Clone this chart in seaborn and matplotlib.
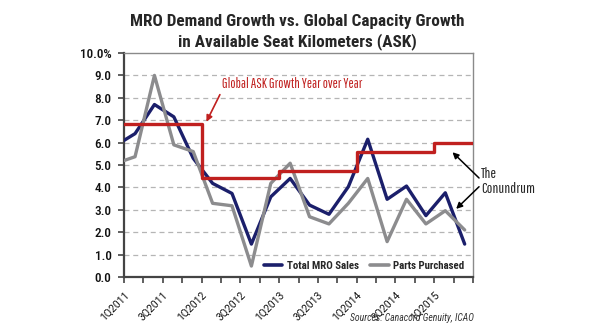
import numpy as np
import pandas as pd
import matplotlib
matplotlib.use("Agg")
import matplotlib.pyplot as plt
import seaborn as sns

# Quarterly growth series (%), one value per quarter starting 4Q2010
quarters = ["4Q2010", "1Q2011", "2Q2011", "3Q2011", "4Q2011", "1Q2012", "2Q2012",
            "3Q2012", "4Q2012", "1Q2013", "2Q2013", "3Q2013", "4Q2013", "1Q2014",
            "2Q2014", "3Q2014", "4Q2014", "1Q2015", "2Q2015"]
total_mro_sales = [5.87, 6.4, 7.7, 7.15, 5.3, 4.18, 3.73, 1.47, 3.58, 4.4, 3.21,
                   2.8, 4.03, 6.15, 3.47, 4.06, 2.74, 3.76, 1.47]
parts_purchased = [5.07, 5.37, 9.0, 5.9, 5.6, 3.29, 3.18, 0.49, 4.18, 5.08, 2.69,
                   2.37, 3.29, 4.4, 1.58, 3.47, 2.37, 2.96, 2.1]

# Global ASK growth, year over year (held flat through each year)
ask_years = ["2011", "2012", "2013", "2014", "2015"]
ask_growth = [6.85, 4.4, 4.75, 5.6, 5.97]

# Category axis: quarter ticks from 1Q2011 to 3Q2015
axis_quarters = ["1Q2011", "2Q2011", "3Q2011", "4Q2011", "1Q2012", "2Q2012", "3Q2012",
                 "4Q2012", "1Q2013", "2Q2013", "3Q2013", "4Q2013", "1Q2014", "2Q2014",
                 "3Q2014", "4Q2014", "1Q2015", "2Q2015", "3Q2015"]

sns.set_style("white")
COND = ["Roboto Condensed", "DejaVu Sans"]
NARROW = ["Pathway Gothic One", "Roboto Condensed", "DejaVu Sans"]
plt.rcParams["font.family"] = COND

fig = plt.figure(figsize=(5.95, 3.35), dpi=100)
ax = fig.add_axes([0.2084, 0.1731, 0.5866, 0.6687])

# Data points sit mid-quarter between the tick marks
pos = np.arange(len(quarters)) - 1 + 0.57
df = pd.DataFrame({
    "x": np.concatenate([pos, pos]),
    "value": total_mro_sales + parts_purchased,
    "series": ["Total MRO Sales"] * len(pos) + ["Parts Purchased"] * len(pos),
})

sns.lineplot(data=df, x="x", y="value", hue="series", ax=ax,
             palette={"Total MRO Sales": "#1b1f6b", "Parts Purchased": "#8c8c8e"},
             linewidth=2.4, zorder=3, legend=True)

# Yearly ASK step line: each year spans four quarter ticks
ask_x = [4 * i for i in range(len(ask_years))] + [len(axis_quarters) - 1]
ask_y = ask_growth + [ask_growth[-1]]
ask_df = pd.DataFrame({"x": ask_x, "value": ask_y})
sns.lineplot(data=ask_df, x="x", y="value", ax=ax, color="#c0201f",
             linewidth=2.4, drawstyle="steps-post", zorder=4)

ax.set_xlim(0, len(axis_quarters) - 1)
ax.set_ylim(0, 10)
ax.set_xlabel("")
ax.set_ylabel("")

ax.set_yticks(np.arange(0, 11, 1))
ax.set_yticklabels([f"{v:.1f}%" if v == 10 else f"{v:.1f}" for v in range(11)],
                   fontsize=9.5, color="#111111", fontweight="medium")
ax.set_xticks(np.arange(len(axis_quarters)))
ax.set_xticklabels([q if i % 2 == 0 and i < 18 else "" for i, q in enumerate(axis_quarters)],
                   rotation=45, ha="right", va="top", rotation_mode="anchor",
                   fontsize=7.5, color="#111111", family=["Roboto", "DejaVu Sans"])
ax.tick_params(axis="both", direction="out", length=4, width=1.2, color="#444444",
               left=True, bottom=True)
ax.tick_params(axis="x", pad=5)
ax.tick_params(axis="y", pad=5)

for y in range(1, 10):
    ax.axhline(y, color="#b5b5b5", linewidth=0.9, linestyle=(0, (4, 3)), zorder=1)

for side in ["left", "bottom"]:
    ax.spines[side].set_color("#444444")
    ax.spines[side].set_linewidth(1.6)
for side in ["top", "right"]:
    ax.spines[side].set_visible(True)
    ax.spines[side].set_color("#8a8a8a")
    ax.spines[side].set_linewidth(1.0)

leg = ax.legend(loc="lower right", ncol=2, frameon=False, fontsize=7.8,
                handlelength=1.7, columnspacing=1.1, handletextpad=0.4,
                borderaxespad=0.4, bbox_to_anchor=(1.0, -0.01))
for line in leg.get_lines():
    line.set_linewidth(2.6)
for t in leg.get_texts():
    t.set_fontweight("bold")

# Annotations
ax.annotate("Global ASK Growth Year over Year", xy=(4.25, 6.93), xytext=(5.03, 8.6),
            color="#c0201f", fontsize=10, va="center", ha="left", family=NARROW,
            arrowprops=dict(arrowstyle="-|>", color="#c0201f", lw=1.2,
                            shrinkA=0, shrinkB=0, mutation_scale=9,
                            relpos=(0.0, 0.0)))
ax.text(18.4, 4.6, "The", fontsize=10.8, va="center", ha="left", clip_on=False,
        family=NARROW)
ax.text(18.4, 3.93, "Conundrum", fontsize=10.8, va="center", ha="left", clip_on=False,
        family=NARROW)
ax.annotate("", xy=(16.94, 5.57), xytext=(18.31, 4.42), annotation_clip=False,
            arrowprops=dict(arrowstyle="-|>", color="black", lw=1.1,
                            shrinkA=0, shrinkB=0, mutation_scale=9))
ax.annotate("", xy=(17.13, 3.04), xytext=(18.31, 4.03), annotation_clip=False,
            arrowprops=dict(arrowstyle="-|>", color="black", lw=1.1,
                            shrinkA=0, shrinkB=0, mutation_scale=9))

fig.text(0.5, 0.905, "MRO Demand Growth vs. Global Capacity Growth\nin Available Seat Kilometers (ASK)",
         ha="center", va="center", fontsize=12.3, fontweight="bold", linespacing=1.3)
fig.text(0.797, 0.051, "Sources: Canacord Genuity, ICAO", ha="right", va="center",
         fontsize=7, style="italic", color="#333333")

fig.savefig("out.png", dpi=100)
